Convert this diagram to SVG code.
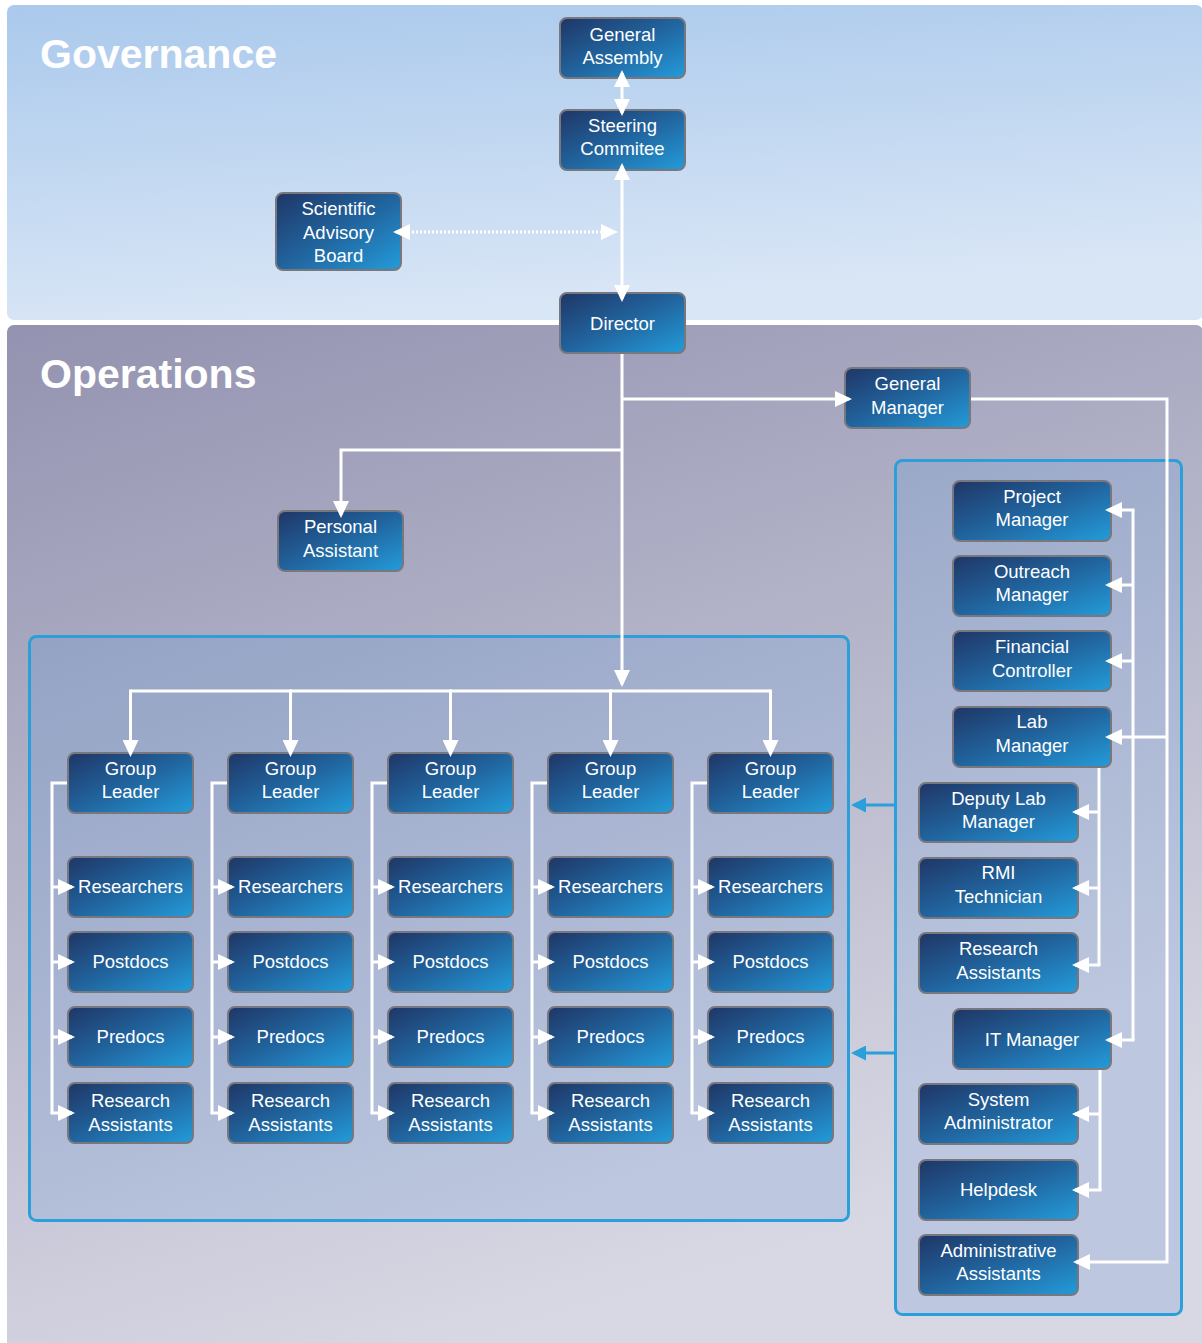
<svg xmlns="http://www.w3.org/2000/svg" width="1202" height="1343" viewBox="0 0 1202 1343">
  <defs>
    <linearGradient id="govBg" x1="0" y1="0" x2="0.25" y2="1">
      <stop offset="0" stop-color="#aac9ec"/>
      <stop offset="1" stop-color="#d9e6f6"/>
    </linearGradient>
    <linearGradient id="opsBg" x1="0" y1="0" x2="0.35" y2="1">
      <stop offset="0" stop-color="#9393b1"/>
      <stop offset="1" stop-color="#d8d8e4"/>
    </linearGradient>
    <linearGradient id="groupBg" gradientUnits="userSpaceOnUse" x1="0" y1="620" x2="250" y2="1320">
      <stop offset="0" stop-color="#92a1c3"/>
      <stop offset="1" stop-color="#bdc7df"/>
    </linearGradient>
    <linearGradient id="nodeFill" x1="0" y1="0" x2="1" y2="1">
      <stop offset="0" stop-color="#1f3666"/>
      <stop offset="0.5" stop-color="#21649e"/>
      <stop offset="1" stop-color="#239cda"/>
    </linearGradient>
    <marker id="ah" viewBox="0 0 17 16" refX="14" refY="8" markerWidth="17" markerHeight="16" markerUnits="userSpaceOnUse" orient="auto-start-reverse">
      <path d="M0,0 L17,8 L0,16 z" fill="#ffffff"/>
    </marker>
    <marker id="ahBlue" viewBox="0 0 15 15" refX="12" refY="7.5" markerWidth="15" markerHeight="15" markerUnits="userSpaceOnUse" orient="auto-start-reverse">
      <path d="M0,0 L15,7.5 L0,15 z" fill="#2a9fd9"/>
    </marker>
    <style>
      .node rect { fill: url(#nodeFill); stroke: #77777d; stroke-width: 2; }
      .node text { fill: #ffffff; font-family: "Liberation Sans", Arial, sans-serif; font-size: 18.5px; text-anchor: middle; }
      .title { fill: #ffffff; font-family: "Liberation Sans", Arial, sans-serif; font-size: 41px; font-weight: bold; }
      .wire { fill: none; stroke: #ffffff; stroke-width: 3; }
      .arr { marker-end: url(#ah); }
      .both { marker-start: url(#ah); marker-end: url(#ah); }
      .dotted { stroke-dasharray: 2 2; }
      .blue { fill: none; stroke: #2a9fd9; stroke-width: 3; marker-end: url(#ahBlue); }
      .frame { fill: url(#groupBg); stroke: #2a9fd9; stroke-width: 3; }
    </style>
  </defs>

  <!-- background bands -->
  <rect x="7" y="5" width="1196" height="315" rx="7" fill="url(#govBg)"/>
  <rect x="7" y="325" width="1196" height="1030" rx="7" fill="url(#opsBg)"/>
  <text class="title" x="40" y="68">Governance</text>
  <text class="title" x="40" y="388">Operations</text>

  <!-- grouping frames -->
  <rect class="frame" x="29.5" y="636.5" width="819" height="584" rx="7"/>
  <rect class="frame" x="895.5" y="460.5" width="286" height="854" rx="7"/>

  <!-- governance nodes -->
  <g id="general-assembly" class="node"><rect x="560" y="18" width="125" height="60" rx="7"/><text x="622.5" y="41">General</text><text x="622.5" y="64">Assembly</text></g>
  <g id="steering-committee" class="node"><rect x="560" y="110" width="125" height="60" rx="7"/><text x="622.5" y="132">Steering</text><text x="622.5" y="155">Commitee</text></g>
  <g id="scientific-advisory-board" class="node"><rect x="276" y="193" width="125" height="77" rx="7"/><text x="338.5" y="215">Scientific</text><text x="338.5" y="239">Advisory</text><text x="338.5" y="262">Board</text></g>

  <!-- operations nodes -->
  <g id="director" class="node"><rect x="560" y="293" width="125" height="60" rx="7"/><text x="622.5" y="330">Director</text></g>
  <g id="general-manager" class="node"><rect x="845" y="368" width="125" height="60" rx="7"/><text x="907.5" y="390">General</text><text x="907.5" y="414">Manager</text></g>
  <g id="personal-assistant" class="node"><rect x="278" y="511" width="125" height="60" rx="7"/><text x="340.5" y="533">Personal</text><text x="340.5" y="557">Assistant</text></g>

  <!-- research groups -->
  <g id="group-1">
    <g id="gl-1" class="node"><rect x="68" y="753" width="125" height="60" rx="7"/><text x="130.5" y="775">Group</text><text x="130.5" y="798">Leader</text></g>
    <g id="res-1" class="node"><rect x="68" y="857" width="125" height="60" rx="7"/><text x="130.5" y="893">Researchers</text></g>
    <g id="post-1" class="node"><rect x="68" y="932" width="125" height="60" rx="7"/><text x="130.5" y="968">Postdocs</text></g>
    <g id="pre-1" class="node"><rect x="68" y="1007" width="125" height="60" rx="7"/><text x="130.5" y="1043">Predocs</text></g>
    <g id="ra-1" class="node"><rect x="68" y="1083" width="125" height="60" rx="7"/><text x="130.5" y="1107">Research</text><text x="130.5" y="1131">Assistants</text></g>
  </g>
  <g id="group-2">
    <g id="gl-2" class="node"><rect x="228" y="753" width="125" height="60" rx="7"/><text x="290.5" y="775">Group</text><text x="290.5" y="798">Leader</text></g>
    <g id="res-2" class="node"><rect x="228" y="857" width="125" height="60" rx="7"/><text x="290.5" y="893">Researchers</text></g>
    <g id="post-2" class="node"><rect x="228" y="932" width="125" height="60" rx="7"/><text x="290.5" y="968">Postdocs</text></g>
    <g id="pre-2" class="node"><rect x="228" y="1007" width="125" height="60" rx="7"/><text x="290.5" y="1043">Predocs</text></g>
    <g id="ra-2" class="node"><rect x="228" y="1083" width="125" height="60" rx="7"/><text x="290.5" y="1107">Research</text><text x="290.5" y="1131">Assistants</text></g>
  </g>
  <g id="group-3">
    <g id="gl-3" class="node"><rect x="388" y="753" width="125" height="60" rx="7"/><text x="450.5" y="775">Group</text><text x="450.5" y="798">Leader</text></g>
    <g id="res-3" class="node"><rect x="388" y="857" width="125" height="60" rx="7"/><text x="450.5" y="893">Researchers</text></g>
    <g id="post-3" class="node"><rect x="388" y="932" width="125" height="60" rx="7"/><text x="450.5" y="968">Postdocs</text></g>
    <g id="pre-3" class="node"><rect x="388" y="1007" width="125" height="60" rx="7"/><text x="450.5" y="1043">Predocs</text></g>
    <g id="ra-3" class="node"><rect x="388" y="1083" width="125" height="60" rx="7"/><text x="450.5" y="1107">Research</text><text x="450.5" y="1131">Assistants</text></g>
  </g>
  <g id="group-4">
    <g id="gl-4" class="node"><rect x="548" y="753" width="125" height="60" rx="7"/><text x="610.5" y="775">Group</text><text x="610.5" y="798">Leader</text></g>
    <g id="res-4" class="node"><rect x="548" y="857" width="125" height="60" rx="7"/><text x="610.5" y="893">Researchers</text></g>
    <g id="post-4" class="node"><rect x="548" y="932" width="125" height="60" rx="7"/><text x="610.5" y="968">Postdocs</text></g>
    <g id="pre-4" class="node"><rect x="548" y="1007" width="125" height="60" rx="7"/><text x="610.5" y="1043">Predocs</text></g>
    <g id="ra-4" class="node"><rect x="548" y="1083" width="125" height="60" rx="7"/><text x="610.5" y="1107">Research</text><text x="610.5" y="1131">Assistants</text></g>
  </g>
  <g id="group-5">
    <g id="gl-5" class="node"><rect x="708" y="753" width="125" height="60" rx="7"/><text x="770.5" y="775">Group</text><text x="770.5" y="798">Leader</text></g>
    <g id="res-5" class="node"><rect x="708" y="857" width="125" height="60" rx="7"/><text x="770.5" y="893">Researchers</text></g>
    <g id="post-5" class="node"><rect x="708" y="932" width="125" height="60" rx="7"/><text x="770.5" y="968">Postdocs</text></g>
    <g id="pre-5" class="node"><rect x="708" y="1007" width="125" height="60" rx="7"/><text x="770.5" y="1043">Predocs</text></g>
    <g id="ra-5" class="node"><rect x="708" y="1083" width="125" height="60" rx="7"/><text x="770.5" y="1107">Research</text><text x="770.5" y="1131">Assistants</text></g>
  </g>

  <!-- administration -->
  <g id="project-manager" class="node"><rect x="953" y="481" width="158" height="60" rx="7"/><text x="1032" y="503">Project</text><text x="1032" y="526">Manager</text></g>
  <g id="outreach-manager" class="node"><rect x="953" y="556" width="158" height="60" rx="7"/><text x="1032" y="578">Outreach</text><text x="1032" y="601">Manager</text></g>
  <g id="financial-controller" class="node"><rect x="953" y="631" width="158" height="60" rx="7"/><text x="1032" y="653">Financial</text><text x="1032" y="677">Controller</text></g>
  <g id="lab-manager" class="node"><rect x="953" y="707" width="158" height="60" rx="7"/><text x="1032" y="728">Lab</text><text x="1032" y="752">Manager</text></g>
  <g id="deputy-lab-manager" class="node"><rect x="919" y="783" width="159" height="59" rx="7"/><text x="998.5" y="805">Deputy Lab</text><text x="998.5" y="828">Manager</text></g>
  <g id="rmi-technician" class="node"><rect x="919" y="858" width="159" height="60" rx="7"/><text x="998.5" y="879">RMI</text><text x="998.5" y="903">Technician</text></g>
  <g id="lab-research-assistants" class="node"><rect x="919" y="933" width="159" height="60" rx="7"/><text x="998.5" y="955">Research</text><text x="998.5" y="979">Assistants</text></g>
  <g id="it-manager" class="node"><rect x="953" y="1009" width="158" height="60" rx="7"/><text x="1032" y="1046">IT Manager</text></g>
  <g id="system-administrator" class="node"><rect x="919" y="1084" width="159" height="60" rx="7"/><text x="998.5" y="1106">System</text><text x="998.5" y="1129">Administrator</text></g>
  <g id="helpdesk" class="node"><rect x="919" y="1160" width="159" height="60" rx="7"/><text x="998.5" y="1196">Helpdesk</text></g>
  <g id="administrative-assistants" class="node"><rect x="919" y="1235" width="159" height="60" rx="7"/><text x="998.5" y="1257">Administrative</text><text x="998.5" y="1280">Assistants</text></g>

  <!-- connectors, drawn on top so the arrowheads overlap the box edges -->
  <g id="connectors">
    <line class="wire both" x1="622" y1="73" x2="622" y2="113"/>
    <line class="wire both" x1="622" y1="166" x2="622" y2="299"/>
    <line class="wire both dotted" x1="396" y1="232" x2="615" y2="232"/>
    <line class="wire arr" x1="622" y1="354" x2="622" y2="684"/>
    <path class="wire arr" d="M622,399 H849"/>
    <path class="wire arr" d="M622,450 H341 V515"/>

    <!-- group leader distribution -->
    <path class="wire" d="M130.5,691 H770.5"/>
    <line class="wire arr" x1="130.5" y1="689.5" x2="130.5" y2="754"/>
    <line class="wire arr" x1="290.5" y1="689.5" x2="290.5" y2="754"/>
    <line class="wire arr" x1="450.5" y1="689.5" x2="450.5" y2="754"/>
    <line class="wire arr" x1="610.5" y1="689.5" x2="610.5" y2="754"/>
    <line class="wire arr" x1="770.5" y1="689.5" x2="770.5" y2="754"/>

    <!-- group brackets -->
    <g id="bracket-1">
      <path class="wire" d="M67,783 H52 V1113"/>
      <line class="wire arr" x1="52" y1="887" x2="72" y2="887"/>
      <line class="wire arr" x1="52" y1="962" x2="72" y2="962"/>
      <line class="wire arr" x1="52" y1="1037" x2="72" y2="1037"/>
      <line class="wire arr" x1="50.5" y1="1113" x2="72" y2="1113"/>
    </g>
    <g id="bracket-2">
      <path class="wire" d="M227,783 H212 V1113"/>
      <line class="wire arr" x1="212" y1="887" x2="232" y2="887"/>
      <line class="wire arr" x1="212" y1="962" x2="232" y2="962"/>
      <line class="wire arr" x1="212" y1="1037" x2="232" y2="1037"/>
      <line class="wire arr" x1="210.5" y1="1113" x2="232" y2="1113"/>
    </g>
    <g id="bracket-3">
      <path class="wire" d="M387,783 H372 V1113"/>
      <line class="wire arr" x1="372" y1="887" x2="392" y2="887"/>
      <line class="wire arr" x1="372" y1="962" x2="392" y2="962"/>
      <line class="wire arr" x1="372" y1="1037" x2="392" y2="1037"/>
      <line class="wire arr" x1="370.5" y1="1113" x2="392" y2="1113"/>
    </g>
    <g id="bracket-4">
      <path class="wire" d="M547,783 H532 V1113"/>
      <line class="wire arr" x1="532" y1="887" x2="552" y2="887"/>
      <line class="wire arr" x1="532" y1="962" x2="552" y2="962"/>
      <line class="wire arr" x1="532" y1="1037" x2="552" y2="1037"/>
      <line class="wire arr" x1="530.5" y1="1113" x2="552" y2="1113"/>
    </g>
    <g id="bracket-5">
      <path class="wire" d="M707,783 H692 V1113"/>
      <line class="wire arr" x1="692" y1="887" x2="712" y2="887"/>
      <line class="wire arr" x1="692" y1="962" x2="712" y2="962"/>
      <line class="wire arr" x1="692" y1="1037" x2="712" y2="1037"/>
      <line class="wire arr" x1="690.5" y1="1113" x2="712" y2="1113"/>
    </g>

    <!-- general manager branch -->
    <path class="wire arr" d="M971,399 H1167 V1262 H1076"/>
    <line class="wire arr" x1="1167" y1="737" x2="1108" y2="737"/>
    <path class="wire" d="M1133,510 V1040"/>
    <line class="wire arr" x1="1134.5" y1="510" x2="1108" y2="510"/>
    <line class="wire arr" x1="1133" y1="585" x2="1108" y2="585"/>
    <line class="wire arr" x1="1133" y1="661" x2="1108" y2="661"/>
    <line class="wire arr" x1="1134.5" y1="1040" x2="1108" y2="1040"/>

    <!-- lab manager branch -->
    <path class="wire" d="M1099,768 V965"/>
    <line class="wire arr" x1="1099" y1="812" x2="1075" y2="812"/>
    <line class="wire arr" x1="1099" y1="888" x2="1075" y2="888"/>
    <line class="wire arr" x1="1100.5" y1="965" x2="1075" y2="965"/>

    <!-- IT manager branch -->
    <path class="wire" d="M1100,1070 V1190"/>
    <line class="wire arr" x1="1100" y1="1114" x2="1075" y2="1114"/>
    <line class="wire arr" x1="1101.5" y1="1190" x2="1075" y2="1190"/>

    <!-- support links into research groups -->
    <line class="blue" x1="895" y1="805" x2="854" y2="805"/>
    <line class="blue" x1="895" y1="1053" x2="854" y2="1053"/>
  </g>
</svg>
